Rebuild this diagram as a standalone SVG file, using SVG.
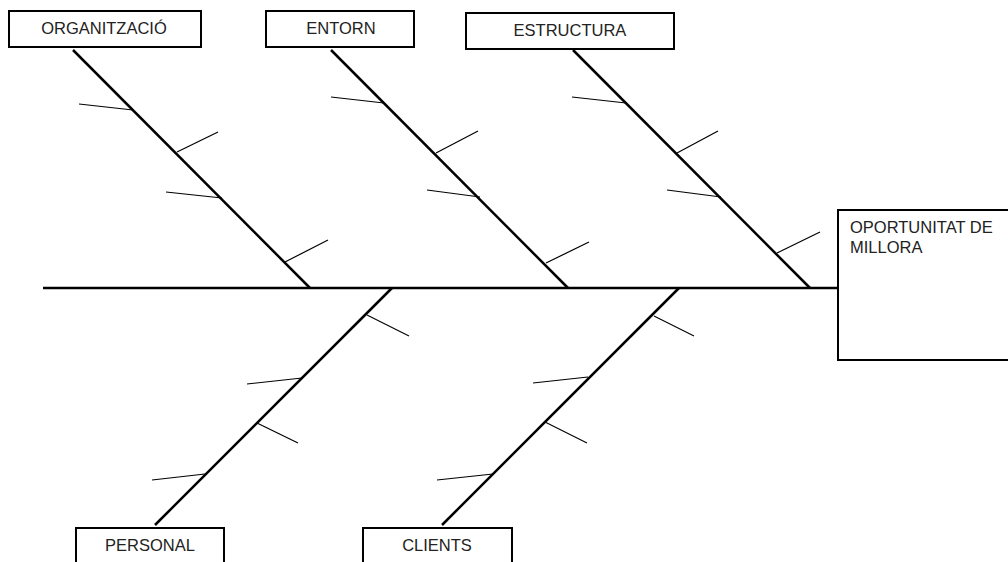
<svg xmlns="http://www.w3.org/2000/svg" width="1008" height="562" viewBox="0 0 1008 562">
<style>
.box{fill:#fff;stroke:#000;stroke-width:2}
.lbl{font-family:"Liberation Sans",Arial,sans-serif;font-size:16.5px;fill:#222}
.c{text-anchor:middle}
.bone{stroke:#000;stroke-width:2.5;fill:none;stroke-linecap:butt}
.rib{stroke:#000;stroke-width:1.2;fill:none}
</style>
<rect width="1008" height="562" fill="#fff"/>
<g id="connectors">
<line class="bone" x1="43" y1="288" x2="838" y2="288"/>
<line class="bone" x1="73" y1="50" x2="310" y2="288"/>
<line class="rib" x1="79" y1="104" x2="133" y2="110"/>
<line class="rib" x1="177" y1="152" x2="218" y2="132"/>
<line class="rib" x1="166" y1="192" x2="222" y2="198"/>
<line class="rib" x1="285" y1="262" x2="328" y2="240"/>
<line class="bone" x1="331" y1="50" x2="568" y2="288"/>
<line class="rib" x1="331" y1="97" x2="384" y2="103"/>
<line class="rib" x1="436" y1="153" x2="478" y2="131"/>
<line class="rib" x1="427" y1="190" x2="480" y2="197"/>
<line class="rib" x1="546" y1="263" x2="589" y2="242"/>
<line class="bone" x1="573" y1="50" x2="810" y2="288"/>
<line class="rib" x1="572" y1="97" x2="626" y2="103"/>
<line class="rib" x1="677" y1="153" x2="718" y2="131"/>
<line class="rib" x1="667" y1="190" x2="721" y2="197"/>
<line class="rib" x1="777" y1="253" x2="820" y2="232"/>
<line class="bone" x1="392" y1="288" x2="155" y2="525"/>
<line class="rib" x1="367" y1="315" x2="409" y2="336"/>
<line class="rib" x1="247" y1="384" x2="302" y2="378"/>
<line class="rib" x1="257" y1="423" x2="298" y2="443"/>
<line class="rib" x1="152" y1="480" x2="205" y2="474"/>
<line class="bone" x1="679" y1="288" x2="442" y2="525"/>
<line class="rib" x1="654" y1="316" x2="694" y2="336"/>
<line class="rib" x1="533" y1="383" x2="588" y2="377"/>
<line class="rib" x1="545" y1="422" x2="587" y2="443"/>
<line class="rib" x1="437" y1="480" x2="493" y2="474"/>
</g>
<g id="organitzacio">
<rect class="box" x="9" y="11" width="192" height="36"/>
<text class="lbl c" x="104" y="34">ORGANITZACIÓ</text>
</g>
<g id="entorn">
<rect class="box" x="266" y="11" width="148" height="36"/>
<text class="lbl c" x="341" y="34">ENTORN</text>
</g>
<g id="estructura">
<rect class="box" x="466" y="13" width="208" height="36"/>
<text class="lbl c" x="570" y="36">ESTRUCTURA</text>
</g>
<g id="oportunitat">
<rect class="box" x="838" y="210" width="190" height="150"/>
<text class="lbl" x="850" y="233">OPORTUNITAT DE</text>
<text class="lbl" x="850" y="253">MILLORA</text>
</g>
<g id="personal">
<rect class="box" x="76" y="528" width="148" height="50"/>
<text class="lbl c" x="150" y="551">PERSONAL</text>
</g>
<g id="clients">
<rect class="box" x="363" y="528" width="149" height="50"/>
<text class="lbl c" x="437" y="551">CLIENTS</text>
</g>
</svg>
